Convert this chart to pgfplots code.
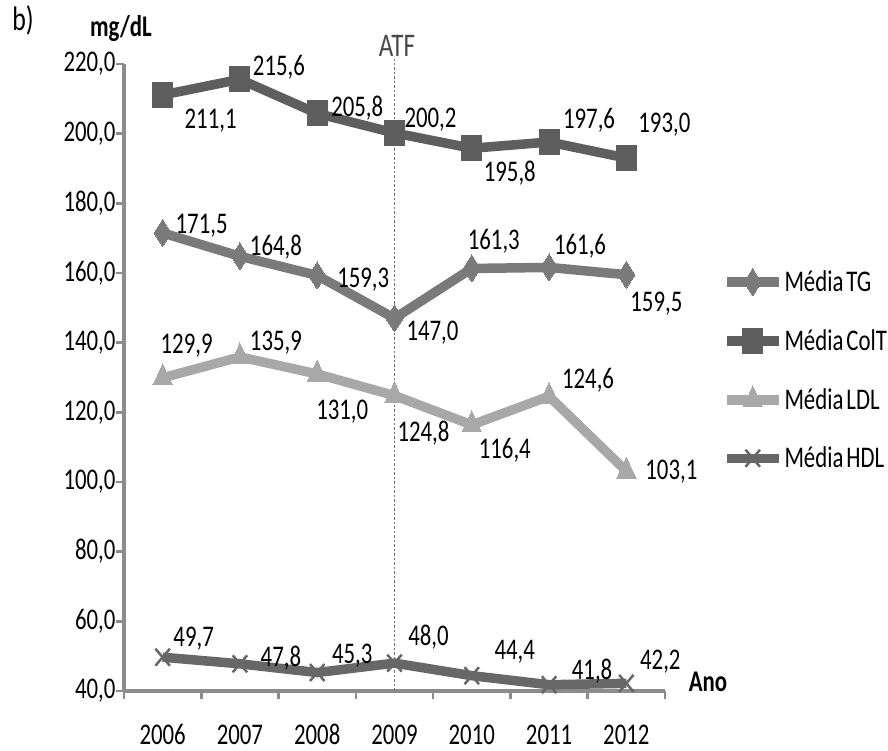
\documentclass[border=0pt]{standalone}
\usepackage{pgfplots}
\pgfplotsset{compat=1.18}
\usepackage{pgfplotstable}
\usepackage{fontspec}
\setmainfont{Carlito}[FakeStretch=0.76]
\definecolor{cTG}{HTML}{7A7A7A}
\definecolor{cColT}{HTML}{5E5E5E}
\definecolor{cLDL}{HTML}{A8A8A8}
\definecolor{cHDL}{HTML}{676767}
\definecolor{axgray}{HTML}{8C8C8C}

% x value dx dy (label offset in pt, dy upward)
\pgfplotstableread{
x y dx dy
0 171.5 39 7
1 164.8 36 9
2 159.3 46 -4
3 147.0 38 -14
4 161.3 22 27
5 161.6 31 21
6 159.5 30 -29
}\tg
\pgfplotstableread{
x y dx dy
0 211.1 48 -26
1 215.6 39 12
2 205.8 40 5
3 200.2 36 13
4 195.8 38 -25
5 197.6 40 22
6 193.0 38 33
}\colt
\pgfplotstableread{
x y dx dy
0 129.9 24 32
1 135.9 36 14
2 131.0 25 -38
3 124.8 29 -38
4 116.4 33 -25
5 124.6 39 16
6 103.1 45 0
}\ldl
\pgfplotstableread{
x y dx dy
0 49.7 31 19
1 47.8 41 6
2 45.3 35 17
3 48.0 34 26
4 44.4 43 24
5 41.8 43 14
6 42.2 34 22
}\hdl

\begin{document}
\begin{tikzpicture}[font=\fontsize{30}{34}\selectfont]
\useasboundingbox (-124pt,-60pt) rectangle (764pt,691pt);
\begin{axis}[
  at={(0,0)}, anchor=south west,
  scale only axis, width=541pt, height=627pt,
  xmin=-0.5, xmax=6.5, ymin=40, ymax=220,
  axis x line*=bottom, axis y line*=left,
  axis line style={draw=axgray, line width=3.5pt},
  tick align=outside,
  major tick length=8pt,
  tick style={draw=axgray, line width=2.5pt},
  xtick={-0.5,0.5,...,6.5}, xticklabels={},
  extra x ticks={0,1,2,3,4,5,6},
  extra x tick labels={2006,2007,2008,2009,2010,2011,2012},
  extra x tick style={major tick length=0pt, xticklabel style={anchor=base, yshift=-53pt, inner sep=0pt}},
  ytick={40,60,...,220},
  yticklabel style={xshift=3pt, /pgf/number format/.cd, fixed, fixed zerofill, precision=1, use comma, assume math mode=true},
  /pgf/number format/assume math mode=true,
  clip=false,
  nodes near coords={\pgfmathprintnumber[fixed, fixed zerofill, precision=1, use comma, assume math mode=true]{\pgfplotspointmeta}},
  point meta=y,
  visualization depends on={\thisrow{dx} \as \ldx},
  visualization depends on={\thisrow{dy} \as \ldy},
  every node near coord/.append style={anchor=center, xshift=\ldx pt, yshift=\ldy pt, text=black, inner sep=0pt},
  legend style={draw=none, fill=none, at={(axis description cs:1.105,0.674)}, anchor=north west,
     inner sep=0pt, row sep=32pt, font=\fontsize{30}{34}\selectfont, text=black,
     nodes={inner xsep=1pt, inner ysep=2pt}},
  legend cell align=left,
  legend image code/.code={\draw[#1, mark repeat=2, mark phase=2] plot coordinates {(0pt,0pt) (26pt,0pt) (52pt,0pt)};},
  every axis plot/.append style={line width=9.5pt, line join=round},
]
\draw[axgray!80!black, line width=1.2pt, dash pattern=on 2.5pt off 2pt] (axis cs:3,40) -- (axis cs:3,221.5);
\addplot[cTG, mark=diamond*, mark size=13.5pt, mark options={solid, line width=0pt, xscale=0.85}] table[x=x,y=y] {\tg};
\addlegendentry{Média\hspace{3pt}TG}
\addplot[cColT, mark=square*, mark size=12.5pt, mark options={solid, line width=0pt, xscale=0.8}] table[x=x,y=y] {\colt};
\addlegendentry{Média\hspace{3pt}ColT}
\addplot[cLDL, mark=triangle*, mark size=14pt, mark options={solid, line width=0pt, xscale=0.8}] table[x=x,y=y] {\ldl};
\addlegendentry{Média\hspace{3pt}LDL}
\addplot[cHDL, mark=x, mark size=12pt, mark options={solid, line width=2.5pt, xscale=0.85}] table[x=x,y=y] {\hdl};
\addlegendentry{Média\hspace{3pt}HDL}
\end{axis}
\node[anchor=base, font=\fontsize{34}{38}\selectfont] at (-101pt,660pt) {b)};
\node[anchor=base, font=\fontsize{30}{34}\selectfont\bfseries] at (-3pt,654pt) {mg/dL};
\node[anchor=base, font=\fontsize{30}{34}\selectfont\bfseries] at (584pt,-1pt) {Ano};
\node[anchor=base, text=black!72, font=\fontsize{33}{38}\selectfont] at (273pt,634pt) {ATF};
\end{tikzpicture}
\end{document}
